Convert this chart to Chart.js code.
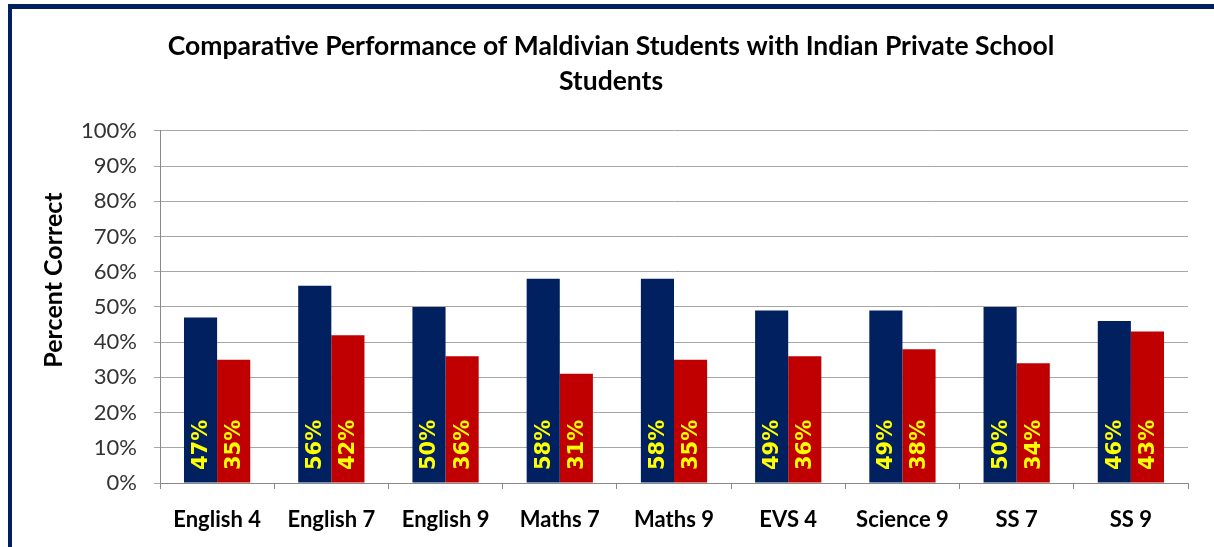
<!DOCTYPE html>
<html>
<head>
<meta charset="utf-8">
<script src="https://cdn.jsdelivr.net/npm/chart.js@4"></script>
<style>
  body { margin: 0; background: #fff; }
  .frame {
    position: absolute; left: 8px; top: 4px; width: 1206px; height: 543px;
    border-left: 4px solid #002060; border-top: 5px solid #002060;
    box-sizing: border-box;
  }
  #myChart { position: absolute; left: 0; top: 0; }
</style>
</head>
<body>
<div class="frame"></div>
<canvas id="myChart" width="1214" height="547"></canvas>
<script>
const subjects = ["English 4", "English 7", "English 9", "Maths 7", "Maths 9", "EVS 4", "Science 9", "SS 7", "SS 9"];
const maldivian = [47, 56, 50, 58, 58, 49, 49, 50, 46];
const indianPrivate = [35, 42, 36, 31, 35, 36, 38, 34, 43];
const yTicks = [0, 10, 20, 30, 40, 50, 60, 70, 80, 90, 100];

// yellow % labels written upward inside each bar
const barLabels = {
  id: "barLabels",
  afterDatasetsDraw(chart) {
    const ctx = chart.ctx;
    const zero = chart.scales.y.getPixelForValue(0);
    ctx.save();
    ctx.fillStyle = "#ffff00";
    ctx.font = "bold 21px 'DejaVu Sans'";
    ctx.textAlign = "left";
    ctx.textBaseline = "middle";
    chart.data.datasets.forEach((ds, i) => {
      chart.getDatasetMeta(i).data.forEach((bar, j) => {
        ctx.save();
        ctx.translate(bar.x + 1, zero - 13);
        ctx.rotate(-Math.PI / 2);
        ctx.fillText(ds.data[j] + "%", 0, 0);
        ctx.restore();
      });
    });
    ctx.restore();
  }
};

// axis title sits a bit above the middle of the plot, like the original
const yTitle = {
  id: "yTitle",
  afterDraw(chart) {
    const ctx = chart.ctx;
    const area = chart.chartArea;
    ctx.save();
    ctx.fillStyle = "#000";
    ctx.font = "bold 25px Lato";
    ctx.textAlign = "center";
    ctx.textBaseline = "middle";
    ctx.translate(54, (area.top + area.bottom) / 2 - 27);
    ctx.rotate(-Math.PI / 2);
    ctx.fillText("Percent Correct", 0, 0);
    ctx.restore();
  }
};

new Chart(document.getElementById("myChart"), {
  type: "bar",
  data: {
    labels: subjects,
    datasets: [
      { label: "Maldivian", data: maldivian, backgroundColor: "#002060" },
      { label: "Indian Private", data: indianPrivate, backgroundColor: "#c00000" }
    ]
  },
  options: {
    responsive: false,
    animation: false,
    categoryPercentage: 0.58,
    barPercentage: 1,
    layout: { padding: { left: 34, right: 26, top: 0, bottom: 0 } },
    plugins: {
      legend: { display: false },
      tooltip: { enabled: false },
      title: {
        display: true,
        text: ["Comparative Performance of Maldivian Students with Indian Private School", "Students"],
        color: "#000",
        font: { family: "Lato", size: 26.5, weight: "bold", lineHeight: 1.32 },
        padding: { top: 29, bottom: 32 }
      }
    },
    scales: {
      x: {
        afterFit: s => { s.height = 64; },
        grid: { drawOnChartArea: false, tickLength: 6, color: "#888", offset: true },
        border: { color: "#888" },
        ticks: { color: "#000", padding: 18, font: { family: "Lato", size: 22, weight: "bold" } }
      },
      y: {
        min: 0,
        max: 100,
        afterFit: s => { s.width = 126; },
        afterBuildTicks: s => { s.ticks = yTicks.map(v => ({ value: v })); },
        grid: { color: "#a6a6a6", tickLength: 6 },
        border: { color: "#888" },
        ticks: {
          color: "#333",
          padding: 17,
          font: { family: "Lato", size: 22 },
          callback: v => v + "%"
        }
      }
    }
  },
  plugins: [barLabels, yTitle]
});
</script>
</body>
</html>
